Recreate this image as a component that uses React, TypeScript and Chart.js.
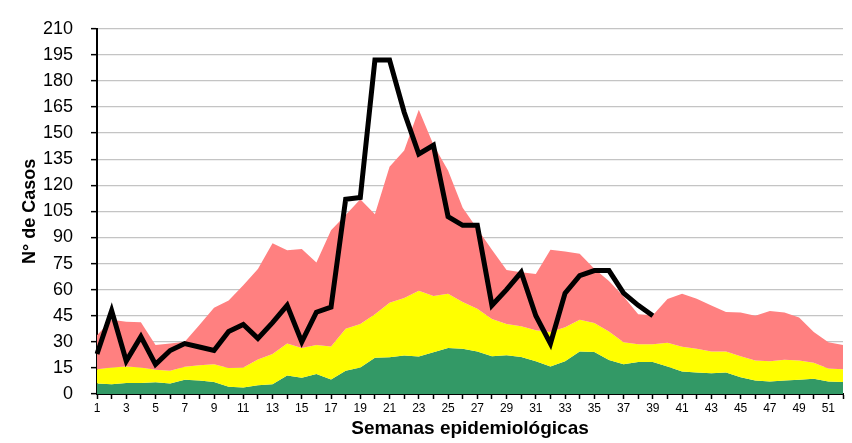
import React, { useEffect, useRef } from "react";
import { Chart, registerables } from "chart.js";

Chart.register(...registerables);

const weeks = [
  "1", "2", "3", "4", "5", "6", "7", "8", "9", "10",
  "11", "12", "13", "14", "15", "16", "17", "18", "19", "20",
  "21", "22", "23", "24", "25", "26", "27", "28", "29", "30",
  "31", "32", "33", "34", "35", "36", "37", "38", "39", "40",
  "41", "42", "43", "44", "45", "46", "47", "48", "49", "50",
  "51", "52",
];

// Upper limit of the success zone (green)
const exito = [
  6, 5.6, 6.3, 6.3, 6.7, 6, 8.2, 7.8, 6.9, 4.1,
  3.7, 5, 5.6, 10.6, 9.3, 11.5, 8.4, 13.4, 15.2, 20.8,
  21.2, 22.1, 21.6, 24, 26.4, 26, 24.5, 21.7, 22.3, 21.3,
  18.9, 15.8, 18.9, 24.5, 24.1, 19.5, 17.1, 18.4, 18.4, 15.8,
  13, 12.4, 11.9, 12.4, 9.6, 7.8, 7.2, 7.8, 8.2, 8.7,
  7.2, 6.9,
];

// Upper limit of the security zone (yellow)
const seguridad = [
  14.3, 15.2, 15.8, 15.2, 13.9, 13.4, 15.6, 16.5, 17.1, 14.9,
  15.2, 19.9, 23, 29.1, 26.4, 28.2, 27.3, 37.5, 40.3, 45.9,
  52.4, 55.2, 59.4, 56.4, 57.6, 52.9, 49, 43.1, 40.3, 39,
  36.6, 35.7, 38.4, 42.7, 40.8, 36, 29.7, 28.6, 28.6, 29.4,
  27.1, 26, 24.5, 24.5, 21.7, 19.3, 18.9, 19.7, 19.3, 18,
  14.7, 14.3,
];

// Upper limit of the alert zone (red)
const alerta = [
  33.8, 42.7, 41.6, 41.2, 28.2, 29.1, 30.1, 39.7, 49.6, 53.7,
  62.6, 71.9, 86.7, 82.6, 83.4, 75.6, 94.2, 102.9, 112, 103.4,
  130.7, 140, 163.4, 143.3, 128.5, 107.1, 95, 83, 71.3, 70,
  69, 83, 82, 80.6, 72, 65, 56, 45.9, 45.3, 54.6,
  57.6, 54.8, 50.9, 47.2, 46.8, 45, 47.7, 46.8, 44, 35.7,
  29.7, 28.2,
];

// Current-year cases (black line), reported through week 39
const casos = [
  23, 48, 19, 33, 17, 25, 29, 27, 25, 36,
  40, 32, 41, 51, 30, 47, 50, 112, 113, 192,
  192, 162, 138, 143, 102, 97, 97, 51, 60, 70,
  45, 29, 58, 68, 71, 71, 58, 51, 45,
];

const yTicks = [0, 15, 30, 45, 60, 75, 90, 105, 120, 135, 150, 165, 180, 195, 210];

export default function App() {
  const ref = useRef<HTMLCanvasElement | null>(null);

  useEffect(() => {
    if (!ref.current) return;
    const chart = new Chart(ref.current, {
      type: "line",
      data: {
        labels: weeks,
        datasets: [
          {
            label: "Éxito",
            data: exito,
            backgroundColor: "#339966",
            borderWidth: 0,
            pointRadius: 0,
            fill: "origin",
            tension: 0,
            order: 3,
          },
          {
            label: "Seguridad",
            data: seguridad,
            backgroundColor: "#FFFF00",
            borderWidth: 0,
            pointRadius: 0,
            fill: "-1",
            tension: 0,
            order: 2,
          },
          {
            label: "Alerta",
            data: alerta,
            backgroundColor: "#FF8080",
            borderWidth: 0,
            pointRadius: 0,
            fill: "-1",
            tension: 0,
            order: 1,
          },
          {
            label: "Casos",
            data: casos,
            borderColor: "#000000",
            borderWidth: 5,
            borderJoinStyle: "miter",
            pointRadius: 0,
            fill: false,
            tension: 0,
            order: 0,
          },
        ],
      },
      options: {
        responsive: false,
        animation: false,
        layout: { padding: { top: 17, right: 9, bottom: 0, left: 0 } },
        plugins: {
          legend: { display: false },
          tooltip: { enabled: false },
        },
        scales: {
          x: {
            offset: false,
            afterFit: (s: any) => {
              s.height = 49;
            },
            grid: {
              display: true,
              drawOnChartArea: false,
              drawTicks: true,
              tickLength: 5,
              tickColor: "#000000",
              tickWidth: 1.5,
            },
            border: { display: true, color: "#000000", width: 2 },
            ticks: {
              autoSkip: false,
              maxRotation: 0,
              minRotation: 0,
              padding: 2,
              color: "#000000",
              font: { family: "'Liberation Sans Narrow', 'Liberation Sans', Arial, sans-serif", size: 12 },
              callback: (_v: any, i: number) => (i % 2 === 0 ? weeks[i] : ""),
            },
            title: {
              display: true,
              text: "Semanas epidemiológicas",
              color: "#000000",
              font: { family: "'Liberation Sans', Arial, sans-serif", size: 19, weight: "bold" },
              padding: { top: 0, bottom: 3 },
            },
          },
          y: {
            min: 0,
            max: 210,
            afterFit: (s: any) => {
              s.width = 97;
            },
            afterBuildTicks: (s: any) => {
              s.ticks = yTicks.map((v) => ({ value: v }));
            },
            grid: {
              color: "#c4c4c4",
              lineWidth: 1.3,
              tickColor: "#000000",
              tickLength: 6,
              tickWidth: 1.5,
            },
            border: { display: true, color: "#000000", width: 2 },
            ticks: {
              padding: 18,
              color: "#000000",
              font: { family: "'Liberation Sans', Arial, sans-serif", size: 18 },
            },
            title: {
              display: true,
              text: "N° de Casos",
              color: "#000000",
              font: { family: "'Liberation Sans', Arial, sans-serif", size: 18, weight: "bold" },
              padding: { top: 19, bottom: 0 },
            },
          },
        },
      },
    });
    return () => chart.destroy();
  }, []);

  return (
    <div style={{ position: "absolute", left: 0, top: 0, width: 852, height: 443, background: "#ffffff" }}>
      <canvas ref={ref} width={852} height={443} style={{ width: 852, height: 443, display: "block" }} />
    </div>
  );
}
